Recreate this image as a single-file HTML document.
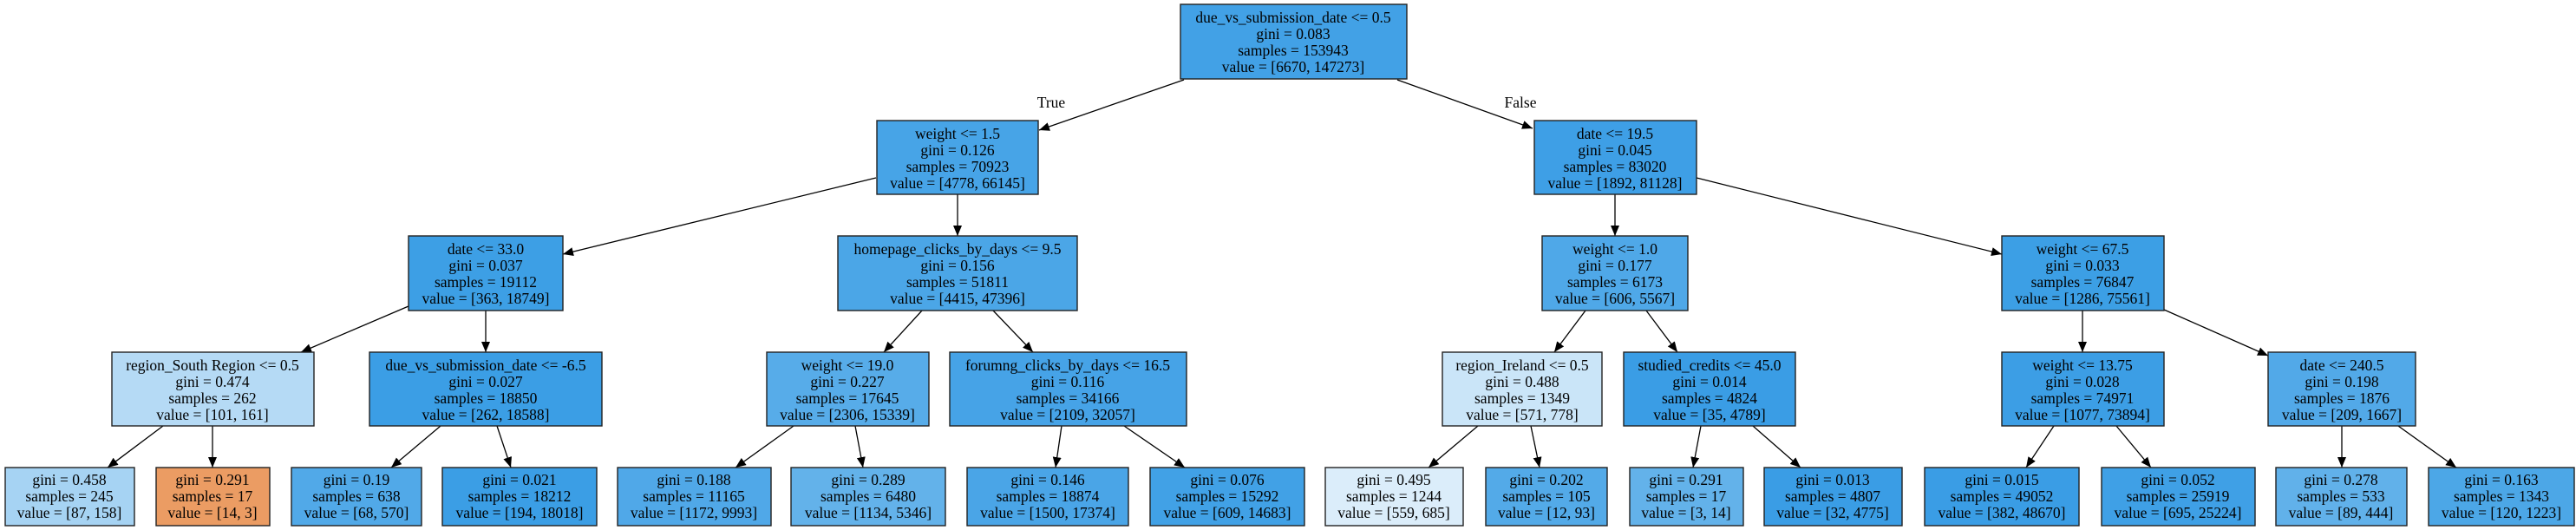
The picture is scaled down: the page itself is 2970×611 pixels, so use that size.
<!DOCTYPE html>
<html><head><meta charset="utf-8"><style>
html,body{margin:0;padding:0;background:#fff;}
svg{display:block;}
text{font-family:"Liberation Serif",serif;font-size:17.5px;fill:#000;text-anchor:middle;}
rect{stroke:#222;stroke-width:1.4;}
line{stroke:#000;stroke-width:1.3;}
</style></head><body>
<svg width="2970" height="611" viewBox="0 0 2970 611" xmlns="http://www.w3.org/2000/svg">
<defs><marker id="a" markerUnits="userSpaceOnUse" markerWidth="14" markerHeight="12" refX="12" refY="5" orient="auto"><path d="M0,0 L12,5 L0,10 z" fill="#000"/></marker></defs>

<!-- edges -->
<g marker-end="url(#a)">
<line x1="1365" y1="92" x2="1198" y2="150"/>
<line x1="1611" y1="92" x2="1767" y2="148"/>
<line x1="1010" y1="205" x2="649" y2="293"/>
<line x1="1104" y1="224" x2="1104" y2="272"/>
<line x1="1956" y1="205" x2="2308" y2="293"/>
<line x1="1862" y1="224" x2="1862" y2="272"/>
<line x1="471" y1="353" x2="347" y2="406"/>
<line x1="560" y1="358" x2="560" y2="406"/>
<line x1="1063" y1="358" x2="1019" y2="406"/>
<line x1="1145" y1="358" x2="1191" y2="406"/>
<line x1="1828" y1="358" x2="1792" y2="406"/>
<line x1="1898" y1="358" x2="1934" y2="406"/>
<line x1="2401" y1="358" x2="2401" y2="406"/>
<line x1="2495" y1="357" x2="2615" y2="410"/>
<line x1="188" y1="491" x2="124" y2="539"/>
<line x1="245" y1="491" x2="245" y2="539"/>
<line x1="508" y1="491" x2="451" y2="539"/>
<line x1="573" y1="491" x2="589" y2="539"/>
<line x1="915" y1="491" x2="848" y2="539"/>
<line x1="986" y1="491" x2="995" y2="539"/>
<line x1="1224" y1="491" x2="1217" y2="539"/>
<line x1="1296" y1="491" x2="1366" y2="539"/>
<line x1="1704" y1="491" x2="1647" y2="539"/>
<line x1="1765" y1="491" x2="1775" y2="539"/>
<line x1="1961" y1="491" x2="1952" y2="539"/>
<line x1="2021" y1="491" x2="2076" y2="539"/>
<line x1="2368" y1="491" x2="2336" y2="539"/>
<line x1="2440" y1="491" x2="2480" y2="539"/>
<line x1="2700" y1="491" x2="2700" y2="539"/>
<line x1="2765" y1="491" x2="2832" y2="539"/>
</g>
<text x="1212" y="124">True</text>
<text x="1753" y="124">False</text>

<!-- level 0 -->
<rect x="1361" y="5" width="261" height="86" fill="#42a1e6"/>
<text x="1491" y="26">due_vs_submission_date &lt;= 0.5</text><text x="1491" y="45">gini = 0.083</text><text x="1491" y="64">samples = 153943</text><text x="1491" y="83">value = [6670, 147273]</text>

<!-- level 1 -->
<rect x="1011" y="139" width="186" height="85" fill="#47a4e7"/>
<text x="1104" y="160">weight &lt;= 1.5</text><text x="1104" y="179">gini = 0.126</text><text x="1104" y="198">samples = 70923</text><text x="1104" y="217">value = [4778, 66145]</text>
<rect x="1769" y="139" width="187" height="85" fill="#3e9fe6"/>
<text x="1862" y="160">date &lt;= 19.5</text><text x="1862" y="179">gini = 0.045</text><text x="1862" y="198">samples = 83020</text><text x="1862" y="217">value = [1892, 81128]</text>

<!-- level 2 -->
<rect x="471" y="272" width="178" height="86" fill="#3d9fe5"/>
<text x="560" y="293">date &lt;= 33.0</text><text x="560" y="312">gini = 0.037</text><text x="560" y="331">samples = 19112</text><text x="560" y="350">value = [363, 18749]</text>
<rect x="966" y="272" width="276" height="86" fill="#4ba6e7"/>
<text x="1104" y="293">homepage_clicks_by_days &lt;= 9.5</text><text x="1104" y="312">gini = 0.156</text><text x="1104" y="331">samples = 51811</text><text x="1104" y="350">value = [4415, 47396]</text>
<rect x="1778" y="272" width="168" height="86" fill="#4fa8e8"/>
<text x="1862" y="293">weight &lt;= 1.0</text><text x="1862" y="312">gini = 0.177</text><text x="1862" y="331">samples = 6173</text><text x="1862" y="350">value = [606, 5567]</text>
<rect x="2308" y="272" width="187" height="86" fill="#3c9fe5"/>
<text x="2401" y="293">weight &lt;= 67.5</text><text x="2401" y="312">gini = 0.033</text><text x="2401" y="331">samples = 76847</text><text x="2401" y="350">value = [1286, 75561]</text>

<!-- level 3 -->
<rect x="129" y="406" width="233" height="85" fill="#b5daf5"/>
<text x="245" y="427">region_South Region &lt;= 0.5</text><text x="245" y="446">gini = 0.474</text><text x="245" y="465">samples = 262</text><text x="245" y="484">value = [101, 161]</text>
<rect x="426" y="406" width="268" height="85" fill="#3b9ee5"/>
<text x="560" y="427">due_vs_submission_date &lt;= -6.5</text><text x="560" y="446">gini = 0.027</text><text x="560" y="465">samples = 18850</text><text x="560" y="484">value = [262, 18588]</text>
<rect x="884" y="406" width="187" height="85" fill="#57ace9"/>
<text x="977" y="427">weight &lt;= 19.0</text><text x="977" y="446">gini = 0.227</text><text x="977" y="465">samples = 17645</text><text x="977" y="484">value = [2306, 15339]</text>
<rect x="1095" y="406" width="273" height="85" fill="#46a3e7"/>
<text x="1231" y="427">forumng_clicks_by_days &lt;= 16.5</text><text x="1231" y="446">gini = 0.116</text><text x="1231" y="465">samples = 34166</text><text x="1231" y="484">value = [2109, 32057]</text>
<rect x="1663" y="406" width="184" height="85" fill="#cae5f8"/>
<text x="1755" y="427">region_Ireland &lt;= 0.5</text><text x="1755" y="446">gini = 0.488</text><text x="1755" y="465">samples = 1349</text><text x="1755" y="484">value = [571, 778]</text>
<rect x="1872" y="406" width="198" height="85" fill="#3a9de5"/>
<text x="1971" y="427">studied_credits &lt;= 45.0</text><text x="1971" y="446">gini = 0.014</text><text x="1971" y="465">samples = 4824</text><text x="1971" y="484">value = [35, 4789]</text>
<rect x="2308" y="406" width="187" height="85" fill="#3c9ee5"/>
<text x="2401" y="427">weight &lt;= 13.75</text><text x="2401" y="446">gini = 0.028</text><text x="2401" y="465">samples = 74971</text><text x="2401" y="484">value = [1077, 73894]</text>
<rect x="2615" y="406" width="170" height="85" fill="#52a9e8"/>
<text x="2700" y="427">date &lt;= 240.5</text><text x="2700" y="446">gini = 0.198</text><text x="2700" y="465">samples = 1876</text><text x="2700" y="484">value = [209, 1667]</text>

<!-- leaves -->
<rect x="6" y="539" width="149" height="67" fill="#a6d3f3"/>
<text x="80" y="559">gini = 0.458</text><text x="80" y="578">samples = 245</text><text x="80" y="597">value = [87, 158]</text>
<rect x="180" y="539" width="131" height="67" fill="#eb9c63"/>
<text x="245" y="559">gini = 0.291</text><text x="245" y="578">samples = 17</text><text x="245" y="597">value = [14, 3]</text>
<rect x="336" y="539" width="150" height="67" fill="#51a9e8"/>
<text x="411" y="559">gini = 0.19</text><text x="411" y="578">samples = 638</text><text x="411" y="597">value = [68, 570]</text>
<rect x="510" y="539" width="178" height="67" fill="#3b9ee5"/>
<text x="599" y="559">gini = 0.021</text><text x="599" y="578">samples = 18212</text><text x="599" y="597">value = [194, 18018]</text>
<rect x="712" y="539" width="177" height="67" fill="#50a8e8"/>
<text x="800" y="559">gini = 0.188</text><text x="800" y="578">samples = 11165</text><text x="800" y="597">value = [1172, 9993]</text>
<rect x="912" y="539" width="178" height="67" fill="#63b2ea"/>
<text x="1001" y="559">gini = 0.289</text><text x="1001" y="578">samples = 6480</text><text x="1001" y="597">value = [1134, 5346]</text>
<rect x="1115" y="539" width="186" height="67" fill="#4aa5e7"/>
<text x="1208" y="559">gini = 0.146</text><text x="1208" y="578">samples = 18874</text><text x="1208" y="597">value = [1500, 17374]</text>
<rect x="1326" y="539" width="178" height="67" fill="#41a1e6"/>
<text x="1415" y="559">gini = 0.076</text><text x="1415" y="578">samples = 15292</text><text x="1415" y="597">value = [609, 14683]</text>
<rect x="1528" y="539" width="159" height="67" fill="#dbedfa"/>
<text x="1607" y="559">gini = 0.495</text><text x="1607" y="578">samples = 1244</text><text x="1607" y="597">value = [559, 685]</text>
<rect x="1713" y="539" width="140" height="67" fill="#53aae8"/>
<text x="1783" y="559">gini = 0.202</text><text x="1783" y="578">samples = 105</text><text x="1783" y="597">value = [12, 93]</text>
<rect x="1879" y="539" width="131" height="67" fill="#63b2ea"/>
<text x="1944" y="559">gini = 0.291</text><text x="1944" y="578">samples = 17</text><text x="1944" y="597">value = [3, 14]</text>
<rect x="2034" y="539" width="159" height="67" fill="#3a9de5"/>
<text x="2113" y="559">gini = 0.013</text><text x="2113" y="578">samples = 4807</text><text x="2113" y="597">value = [32, 4775]</text>
<rect x="2219" y="539" width="178" height="67" fill="#3a9de5"/>
<text x="2308" y="559">gini = 0.015</text><text x="2308" y="578">samples = 49052</text><text x="2308" y="597">value = [382, 48670]</text>
<rect x="2423" y="539" width="177" height="67" fill="#3fa0e6"/>
<text x="2511" y="559">gini = 0.052</text><text x="2511" y="578">samples = 25919</text><text x="2511" y="597">value = [695, 25224]</text>
<rect x="2624" y="539" width="151" height="67" fill="#61b1ea"/>
<text x="2699" y="559">gini = 0.278</text><text x="2699" y="578">samples = 533</text><text x="2699" y="597">value = [89, 444]</text>
<rect x="2800" y="539" width="168" height="67" fill="#4ca7e7"/>
<text x="2884" y="559">gini = 0.163</text><text x="2884" y="578">samples = 1343</text><text x="2884" y="597">value = [120, 1223]</text>
</svg>
</body></html>
